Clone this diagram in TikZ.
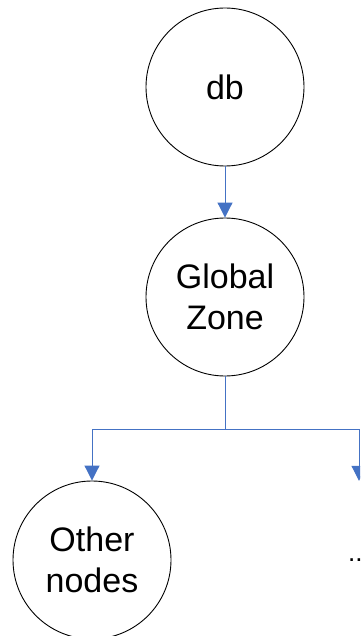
\documentclass[tikz,border=0pt]{standalone}
\usepackage{fontspec}
\setmainfont{Liberation Sans}
\usetikzlibrary{arrows.meta}
\definecolor{connblue}{HTML}{4472C4}
\begin{document}
\begin{tikzpicture}[x=1pt,y=-1pt,
  state/.style={circle,draw=black,line width=0.9pt,minimum size=158pt,inner sep=0pt,
    align=center,font=\fontsize{34}{41}\selectfont},
  ghost/.style={circle,draw=none,minimum size=158pt,inner sep=0pt,
    align=center,font=\fontsize{26}{36}\selectfont},
  conn/.style={draw=connblue,line width=1pt,-{Triangle[length=15pt,width=15pt]}}]
\useasboundingbox (0,0) rectangle (360,636);
\clip (0,0) rectangle (360,636);
\node[state] (db) at (225,87) {db};
\node[state] (gz) at (225,297) {Global\\Zone};
\node[state] (on) at (92,560) {Other\\nodes};
\node[ghost] (dots) at (359,560) {...};
\coordinate (br) at (225,429);
\draw[conn] (db.south) -- (gz.north);
\draw[conn] (gz.south) -- (br) -| (on.north);
\draw[conn] (br) -| (dots.north);
\end{tikzpicture}
\end{document}
